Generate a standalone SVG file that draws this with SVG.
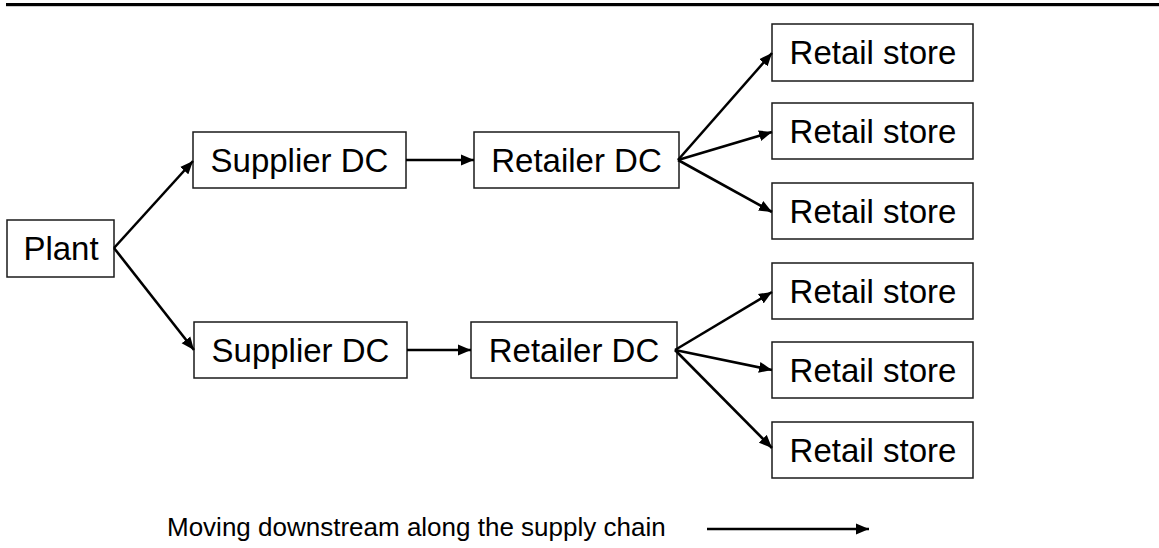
<svg xmlns="http://www.w3.org/2000/svg" width="1159" height="548" viewBox="0 0 1159 548">
  <style>
    .box { fill: #fff; stroke: #1a1a1a; stroke-width: 1.5; }
    .lbl { font-family: "Liberation Sans", Arial, sans-serif; font-size: 33px; fill: #000; text-anchor: middle; }
    .cap { font-family: "Liberation Sans", Arial, sans-serif; font-size: 26px; fill: #000; }
    .arr { stroke: #000; stroke-width: 2.6; fill: none; marker-end: url(#ah); }
  </style>
  <defs>
    <marker id="ah" markerUnits="userSpaceOnUse" markerWidth="14" markerHeight="12" refX="13" refY="6" orient="auto">
      <path d="M0,0.5 L13,6 L0,11.5 z" fill="#000"/>
    </marker>
  </defs>
  <rect width="1159" height="548" fill="#fff"/>
  <rect x="6" y="3" width="1153" height="3.2" fill="#000"/>

  <g id="plant"><rect class="box" x="7" y="220" width="107" height="57"/><text class="lbl" x="61" y="260">Plant</text></g>
  <g id="supplier1"><rect class="box" x="193" y="132" width="213" height="56"/><text class="lbl" x="299.5" y="172">Supplier DC</text></g>
  <g id="supplier2"><rect class="box" x="194" y="322" width="213" height="56"/><text class="lbl" x="300.5" y="362">Supplier DC</text></g>
  <g id="retailer1"><rect class="box" x="474" y="132" width="205" height="56"/><text class="lbl" x="576.5" y="172">Retailer DC</text></g>
  <g id="retailer2"><rect class="box" x="471" y="322" width="206" height="56"/><text class="lbl" x="574" y="362">Retailer DC</text></g>
  <g id="store1"><rect class="box" x="772" y="24" width="201" height="57"/><text class="lbl" x="873" y="64">Retail store</text></g>
  <g id="store2"><rect class="box" x="772" y="103" width="201" height="56"/><text class="lbl" x="873" y="143">Retail store</text></g>
  <g id="store3"><rect class="box" x="772" y="183" width="201" height="56"/><text class="lbl" x="873" y="223">Retail store</text></g>
  <g id="store4"><rect class="box" x="772" y="263" width="201" height="56"/><text class="lbl" x="873" y="303">Retail store</text></g>
  <g id="store5"><rect class="box" x="772" y="342" width="201" height="56"/><text class="lbl" x="873" y="382">Retail store</text></g>
  <g id="store6"><rect class="box" x="772" y="422" width="201" height="56"/><text class="lbl" x="873" y="462">Retail store</text></g>

  <g id="connectors">
    <line class="arr" x1="114" y1="248" x2="193" y2="161"/>
    <line class="arr" x1="114" y1="248" x2="194" y2="350"/>
    <line class="arr" x1="406" y1="160" x2="474" y2="160"/>
    <line class="arr" x1="407" y1="350" x2="471" y2="350"/>
    <line class="arr" x1="678" y1="160" x2="772" y2="53"/>
    <line class="arr" x1="678" y1="160" x2="772" y2="132"/>
    <line class="arr" x1="678" y1="160" x2="772" y2="212"/>
    <line class="arr" x1="675" y1="350" x2="772" y2="292"/>
    <line class="arr" x1="675" y1="350" x2="772" y2="370"/>
    <line class="arr" x1="675" y1="350" x2="772" y2="448"/>
    <line class="arr" x1="707" y1="529" x2="869" y2="529"/>
  </g>

  <text class="cap" x="167" y="536">Moving downstream along the supply chain</text>
</svg>
